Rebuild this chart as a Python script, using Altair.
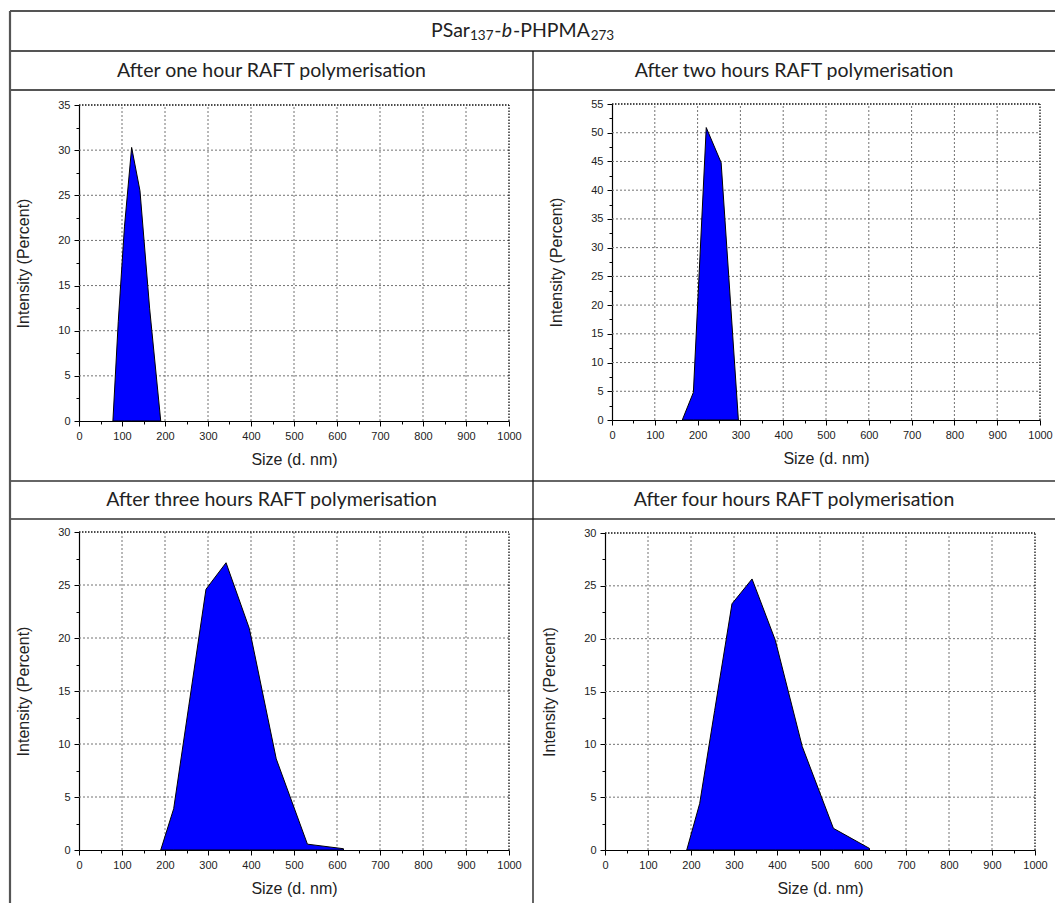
import altair as alt
import pandas as pd

# ---------------- data ----------------
size_1h = [78.82, 91.28, 105.7, 122.4, 141.8, 164.2, 190.1]
int_1h = [0, 11.0, 21.5, 30.3, 25.5, 12.5, 0]

size_2h = [164.2, 190.1, 220.2, 255.0, 295.3]
int_2h = [0, 4.8, 50.9, 44.8, 0]

size_3h = [190.1, 220.2, 255.0, 295.3, 342.0, 396.1, 458.7, 531.2, 615.1]
int_3h = [0, 3.9, 13.5, 24.6, 27.1, 20.9, 8.6, 0.55, 0.12]

size_4h = [190.1, 220.2, 255.0, 295.3, 342.0, 396.1, 458.7, 531.2, 615.1]
int_4h = [0, 4.4, 13.2, 23.3, 25.65, 19.85, 9.8, 2.05, 0.15]

x_ticks = [0, 100, 200, 300, 400, 500, 600, 700, 800, 900, 1000]
x_minor = [50, 150, 250, 350, 450, 550, 650, 750, 850, 950]
y_max = [35, 55, 30, 30]

panel_titles = [
    "After one hour RAFT polymerisation",
    "After two hours RAFT polymerisation",
    "After three hours RAFT polymerisation",
    "After four hours RAFT polymerisation",
]
x_title = "Size (d. nm)"
y_title = "Intensity (Percent)"

# ---------------- layout ----------------
W, H = 1055, 903
AX_FONT = "Liberation Sans"
TXT_FONT = "Lato"
GRID = "#727272"

one = pd.DataFrame({"a": [0]})


def panel(sizes, vals, ymax, xr, yr):
    sx = alt.Scale(domain=[0, 1000], range=xr, nice=False, zero=False)
    sy = alt.Scale(domain=[0, ymax], range=yr, nice=False, zero=False)
    y_ticks = list(range(0, ymax + 1, 5))
    y_minor = [v + 2.5 for v in range(0, ymax, 5)]
    x0, y0 = xr[0], yr[0]

    df = pd.DataFrame({"size": sizes, "intensity": vals})
    gx = pd.DataFrame({"gx": x_ticks[1:-1], "gy0": 0, "gy1": ymax})
    gy = pd.DataFrame({"gy": y_ticks[1:-1], "gx0": 0, "gx1": 1000})
    fr = pd.DataFrame({"fx0": [0, 1000], "fx1": [1000, 1000],
                       "fy0": [ymax, 0], "fy1": [ymax, ymax]})
    mx = pd.DataFrame({"mx": x_minor, "my": 0})
    my = pd.DataFrame({"my": y_minor, "mx": 0})

    grid_x = alt.Chart(gx).mark_rule(color=GRID, strokeDash=[2, 2], strokeWidth=1).encode(
        x=alt.X("gx:Q", scale=sx, axis=None),
        y=alt.Y("gy0:Q", scale=sy, axis=None), y2="gy1:Q")
    grid_y = alt.Chart(gy).mark_rule(color=GRID, strokeDash=[2, 2], strokeWidth=1).encode(
        x=alt.X("gx0:Q", scale=sx, axis=None), x2="gx1:Q",
        y=alt.Y("gy:Q", scale=sy, axis=None))
    frame = alt.Chart(fr).mark_rule(color="#111111", strokeDash=[1.5, 1.5], strokeWidth=1.3).encode(
        x=alt.X("fx0:Q", scale=sx, axis=None), x2="fx1:Q",
        y=alt.Y("fy0:Q", scale=sy, axis=None), y2="fy1:Q")

    area = alt.Chart(df).mark_area(color="#0000FF", stroke="black", strokeWidth=1,
                                   interpolate="linear", opacity=1).encode(
        x=alt.X("size:Q", scale=sx, axis=alt.Axis(
            orient="bottom", offset=y0 - H, values=x_ticks, format="d", grid=False,
            domainColor="black", domainWidth=1.2, tickColor="black", tickSize=5, tickWidth=1,
            labelFont=AX_FONT, labelFontSize=11, labelColor="#222222", labelPadding=4,
            labelFlush=False, labelOverlap=False,
            title=x_title, titleFont=AX_FONT, titleFontSize=16, titleFontWeight="normal",
            titleColor="#222222", titlePadding=10)),
        y=alt.Y("intensity:Q", scale=sy, axis=alt.Axis(
            orient="left", offset=-x0, values=y_ticks, format="d", grid=False,
            domainColor="black", domainWidth=1.2, tickColor="black", tickSize=5, tickWidth=1,
            labelFont=AX_FONT, labelFontSize=11, labelColor="#222222", labelPadding=4,
            labelFlush=False, labelOverlap=False,
            title=y_title, titleFont=AX_FONT, titleFontSize=16, titleFontWeight="normal",
            titleColor="#222222", titlePadding=26)),
    )
    minor_x = alt.Chart(mx).mark_point(opacity=0).encode(
        x=alt.X("mx:Q", scale=sx, axis=alt.Axis(
            orient="bottom", offset=y0 - H, values=x_minor, labels=False, domain=False,
            grid=False, tickColor="black", tickSize=3, tickWidth=1, title=None)),
        y=alt.Y("my:Q", scale=sy, axis=None))
    minor_y = alt.Chart(my).mark_point(opacity=0).encode(
        x=alt.X("mx:Q", scale=sx, axis=None),
        y=alt.Y("my:Q", scale=sy, axis=alt.Axis(
            orient="left", offset=-x0, values=y_minor, labels=False, domain=False,
            grid=False, tickColor="black", tickSize=3, tickWidth=1, title=None)))
    return alt.layer(grid_x, grid_y, frame, area, minor_x, minor_y).resolve_axis(
        x="independent", y="independent")


def rule(x1, x2, y1, y2, color="#555555", width=2.0):
    return alt.Chart(one).mark_rule(color=color, strokeWidth=width).encode(
        x=alt.value(x1), x2=alt.value(x2), y=alt.value(y1), y2=alt.value(y2))


def text(s, x, y, size=19.5, align="center", style="normal", font=TXT_FONT, color="#222222"):
    return alt.Chart(one).mark_text(font=font, fontSize=size, align=align, baseline="middle",
                                    fontStyle=style, color=color).encode(
        x=alt.value(x), y=alt.value(y), text=alt.value(s))


p1 = panel(size_1h, int_1h, y_max[0], [79, 509], [421, 105])
p2 = panel(size_2h, int_2h, y_max[1], [612, 1040], [420, 104])
p3 = panel(size_3h, int_3h, y_max[2], [79, 509], [850, 532])
p4 = panel(size_4h, int_4h, y_max[3], [605, 1035], [850, 533])

# table lines
lines = [
    rule(10, W, 11, 11), rule(10, W, 51, 51), rule(10, W, 90, 90),
    rule(10, W, 481, 481, "#333333", 1.6), rule(10, W, 519, 519, "#333333", 1.6),
    rule(10, 10, 11, H, "#555555", 2.2), rule(533, 533, 51, H, "#111111", 1.3),
]

# main title with subscripts and italic b
f, fs = 19.5, 13.5
ty, sy_ = 31, 36
x_start = 431
w_psar = 2.0 * f
w_sub = 3 * 0.6 * fs
w_dash = 0.38 * f
w_b = 0.58 * f
w_phpma = 3.98 * f
x1 = x_start + w_psar
x2 = x1 + w_sub
x3 = x2 + w_dash + w_b
x4 = x3 + w_phpma
title_parts = [
    text("PSar", x_start, ty, f, "left"),
    text("137", x1, sy_, fs, "left"),
    text("-", x2, ty, f, "left"),
    text("b", x2 + w_dash, ty, f, "left", "italic"),
    text("-PHPMA", x3, ty, f, "left"),
    text("273", x4, sy_, fs, "left"),
]

subtitles = [
    text(panel_titles[0], 271.5, 70.5),
    text(panel_titles[1], 794, 70.5),
    text(panel_titles[2], 271.5, 500),
    text(panel_titles[3], 794, 500),
]

chart = alt.layer(p1, p2, p3, p4, *lines, *title_parts, *subtitles).resolve_scale(
    x="independent", y="independent").resolve_axis(
    x="independent", y="independent").properties(
    width=W, height=H, autosize="none", padding=0, background="white"
).configure_view(strokeWidth=0)

chart.save("out.html", embed_options={"renderer": "svg", "actions": False})
